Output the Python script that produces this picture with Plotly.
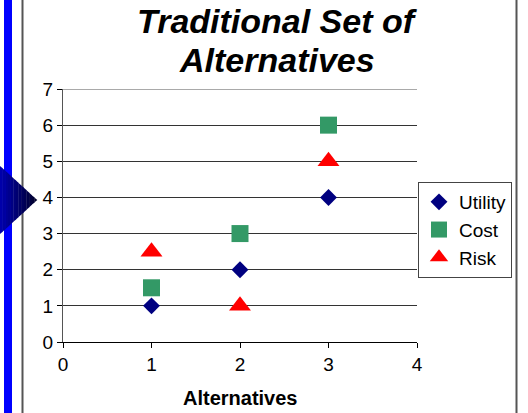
import plotly.graph_objects as go

alternatives = [1, 2, 3]
utility = [1, 2, 4]
cost = [1.5, 3, 6]
risk = [2.5, 1, 5]
x_ticks = [0, 1, 2, 3, 4]
y_ticks = [0, 1, 2, 3, 4, 5, 6, 7]

W, H = 528, 413
L, R, T, B = 63, 111, 89, 71
PW, PH = W - L - R, H - T - B
FONT = "Liberation Sans, Arial, sans-serif"


def px(x):
    return (x - L) / PW


def py(y):
    return (H - B - y) / PH


fig = go.Figure()
fig.add_trace(go.Scatter(x=alternatives, y=utility, mode="markers", name="Utility",
                         marker=dict(symbol="diamond", size=13, color="#000080")))
fig.add_trace(go.Scatter(x=alternatives, y=cost, mode="markers", name="Cost",
                         marker=dict(symbol="square", size=17, color="#339966")))
fig.add_trace(go.Scatter(x=alternatives, y=risk, mode="markers", name="Risk",
                         marker=dict(symbol="triangle-up", size=19, color="#FF0000")))

shapes = []
# blue bar on the left
shapes.append(dict(type="rect", xref="paper", yref="paper", x0=px(4), x1=px(12),
                   y0=py(H), y1=py(0), fillcolor="#0000FF", line=dict(width=0), layer="below"))
# gray frame lines
for xl in (22.5, 516.5):
    shapes.append(dict(type="line", xref="paper", yref="paper", x0=px(xl), x1=px(xl),
                       y0=py(H), y1=py(0), line=dict(color="#555555", width=2), layer="below"))
# top gridline at the range edge
shapes.append(dict(type="line", xref="x", yref="y", x0=x_ticks[0], x1=x_ticks[-1],
                   y0=y_ticks[-1], y1=y_ticks[-1], line=dict(color="#555555", width=1),
                   layer="below"))
# gradient triangle made of strips
tipx, tipy, topy, boty = 37.0, 200.0, 166.0, 234.0
n = 14
for i in range(n):
    xa = tipx * i / n
    xb = tipx * (i + 1) / n
    ya_t = topy + (tipy - topy) * xa / tipx
    yb_t = topy + (tipy - topy) * xb / tipx
    ya_b = boty - (boty - tipy) * xa / tipx
    yb_b = boty - (boty - tipy) * xb / tipx
    f = i / (n - 1)
    b = int(170 * (1 - f) + 45 * f)
    col = f"rgb(0,0,{b})"
    path = (f"M{px(xa)},{py(ya_t)} L{px(xb + 0.3)},{py(yb_t)} "
            f"L{px(xb + 0.3)},{py(yb_b)} L{px(xa)},{py(ya_b)} Z")
    shapes.append(dict(type="path", xref="paper", yref="paper", path=path,
                       fillcolor=col, line=dict(width=0), layer="below"))

title_lines = ["Traditional Set of", "Alternatives"]
title_tops = [0, 39]
annotations = []
for line, top in zip(title_lines, title_tops):
    annotations.append(dict(text=f"<b><i>{line}</i></b>",
                            xref="paper", yref="paper", x=px(277), y=py(top),
                            xanchor="center", yanchor="top", showarrow=False,
                            font=dict(size=34, family=FONT)))
# x-axis title
annotations.append(dict(text="<b>Alternatives</b>", xref="paper", yref="paper",
                        x=0.5, y=py(398), xanchor="center", yanchor="middle",
                        showarrow=False, font=dict(size=20, family=FONT)))

fig.update_layout(
    width=W, height=H,
    margin=dict(l=L, r=R, t=T, b=B),
    paper_bgcolor="white", plot_bgcolor="white",
    font=dict(family=FONT, color="black"),
    showlegend=True,
    legend=dict(x=px(512), xanchor="right", y=py(182), yanchor="top",
                bordercolor="#444444", borderwidth=1, bgcolor="white",
                font=dict(size=19, family=FONT), tracegroupgap=0,
                itemwidth=30),
    shapes=shapes,
    annotations=annotations,
    xaxis=dict(range=[0, 4], tickvals=x_ticks, showgrid=False, zeroline=False,
               showline=True, linecolor="black", linewidth=1,
               ticks="outside", ticklen=5, tickcolor="black",
               tickfont=dict(size=19, family=FONT), automargin=False),
    yaxis=dict(range=[0, 7], tickvals=y_ticks, showgrid=True, gridcolor="#333333", gridwidth=1,
               zeroline=False, showline=True, linecolor="#555555", linewidth=1,
               ticks="outside", ticklen=5, tickcolor="black",
               tickfont=dict(size=19, family=FONT), automargin=False),
)

fig.write_html("out.html", config={"displayModeBar": False},
               post_script="document.body.style.margin='0';")
